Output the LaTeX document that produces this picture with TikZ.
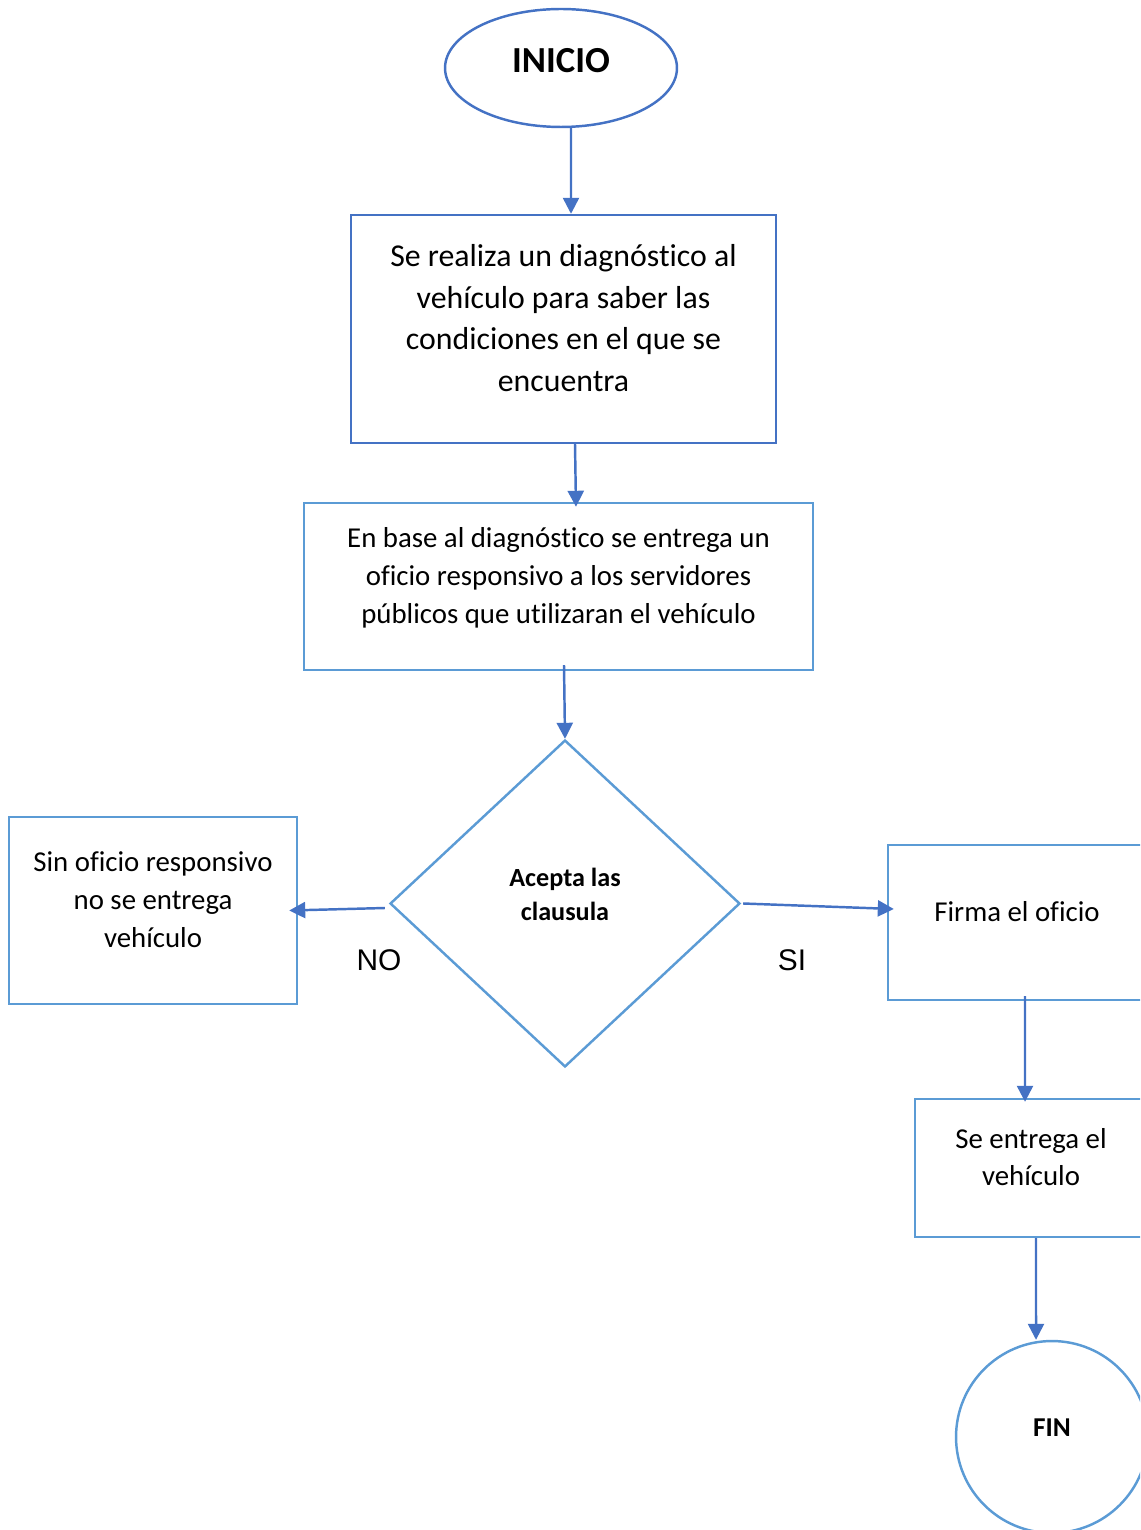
\documentclass[tikz,border=0pt]{standalone}
\usepackage{fontspec}
\setmainfont{Carlito}[Ligatures=NoCommon]
\newfontfamily\arialfont{Liberation Sans}
\usepackage{xcolor}
\usetikzlibrary{arrows.meta, positioning}
\usetikzlibrary{shapes.geometric}
\definecolor{azul}{HTML}{4472C4}
\definecolor{celeste}{HTML}{5B9BD5}

\begin{document}
\begin{tikzpicture}[
    ->,
    >={Triangle[length=0.32cm, width=0.32cm]},
    x=0.02cm, y=-0.02cm,
    line width=1.4pt,
    paso/.style={rectangle, draw=celeste, align=center, text depth=0.44cm,
        font=\fontsize{16.4}{21.5}\selectfont},
    flecha/.style={draw=azul},
    etiqueta/.style={font=\arialfont\fontsize{17}{20}\selectfont}
]
\useasboundingbox (0,0) rectangle (1140,1530);
\clip (0,0) rectangle (1140,1530);

% Nodes
\node[ellipse, draw=azul, minimum width=4.64cm, minimum height=2.36cm, text depth=0.29cm,
    font=\bfseries\fontsize{20.9}{25}\selectfont] (inicio) at (561,68) {INICIO};
\node[paso, draw=azul, minimum width=8.5cm, minimum height=4.56cm,
    font=\fontsize{18.1}{23.8}\selectfont] (diag) at (563.5,329)
    {Se realiza un diagnóstico al\\ vehículo para saber las\\ condiciones en el que se\\ encuentra};
\node[paso, minimum width=10.18cm, minimum height=3.34cm] (oficio) at (558.5,586.5)
    {En base al diagnóstico se entrega un\\ oficio responsivo a los servidores\\ públicos que utilizaran el vehículo};
\node[diamond, draw=celeste, minimum width=7cm, minimum height=6.54cm, inner sep=0pt,
    align=center, text depth=0.35cm, font=\bfseries\fontsize{14.9}{19.3}\selectfont] (dec) at (565,903.5)
    {Acepta las\\ clausula};
\node[paso, minimum width=5.76cm, minimum height=3.74cm] (sin) at (153,910.5)
    {Sin oficio responsivo\\ no se entrega\\ vehículo};
\node[paso, minimum width=5.16cm, minimum height=3.1cm] (firma) at (1017,922.5) {Firma el oficio};
\node[paso, minimum width=4.64cm, minimum height=2.76cm] (entrega) at (1031,1168)
    {Se entrega el\\ vehículo};
\node[circle, draw=celeste, minimum size=3.84cm, text depth=0.37cm,
    font=\bfseries\fontsize{15.5}{19}\selectfont] (fin) at (1052,1437) {FIN};
\node[etiqueta] (no) at (379,960) {NO};
\node[etiqueta] (si) at (792,960) {SI};

% Connectors
\draw[flecha] ([xshift=0.2cm]inicio.south) -- ([xshift=0.15cm]diag.north);
\draw[flecha] ([xshift=0.23cm]diag.south) -- ([xshift=0.35cm, yshift=-0.1cm]oficio.north);
\draw[flecha] ([xshift=0.11cm, yshift=0.12cm]oficio.south) -- (dec.north);
\draw[flecha] ([xshift=-0.08cm, yshift=-0.09cm]dec.west) -- ([xshift=-0.18cm]sin.east);
\draw[flecha] ([xshift=0.04cm]dec.east) -- ([xshift=0.14cm, yshift=0.27cm]firma.west);
\draw[flecha] ([xshift=0.16cm, yshift=0.1cm]firma.south) -- ([xshift=-0.12cm, yshift=-0.08cm]entrega.north);
\draw[flecha] ([xshift=0.1cm]entrega.south) -- ([xshift=-0.32cm]fin.north);

\end{tikzpicture}
\end{document}
